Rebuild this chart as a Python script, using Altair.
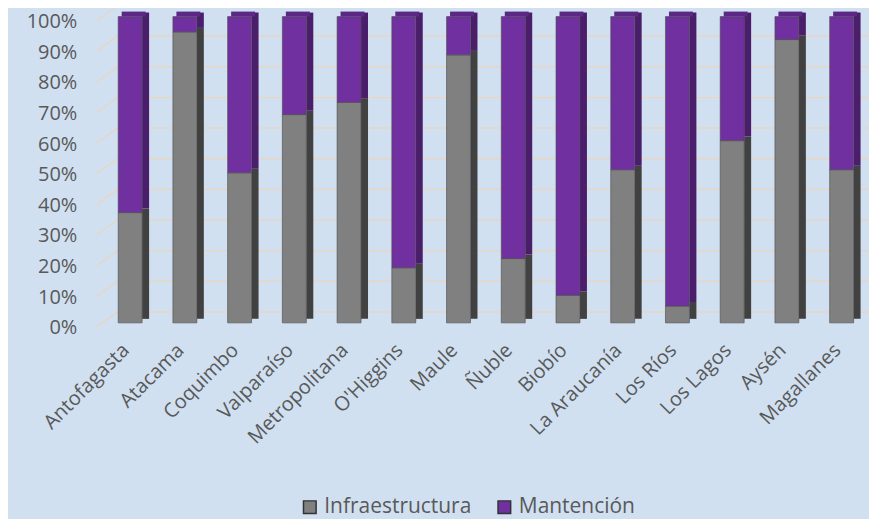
import altair as alt
import pandas as pd

regions = ["Antofagasta", "Atacama", "Coquimbo", "Valparaíso", "Metropolitana",
           "O'Higgins", "Maule", "Ñuble", "Biobío", "La Araucanía", "Los Ríos",
           "Los Lagos", "Aysén", "Magallanes"]
infraestructura = [36, 95, 49, 68, 72, 18, 87.5, 21, 9, 50, 5.5, 59.5, 92.5, 50]
mantencion = [100 - v for v in infraestructura]
series = ["Infraestructura", "Mantención"]
grid_vals = [0, 0.1, 0.2, 0.3, 0.4, 0.5, 0.6, 0.7, 0.8, 0.9, 1.0]

rows = []
for r, a, b in zip(regions, infraestructura, mantencion):
    rows.append({"region": r, "series": series[0], "value": a, "ord": 0})
    rows.append({"region": r, "series": series[1], "value": b, "ord": 1})
df = pd.DataFrame(rows)
grid_df = pd.DataFrame({"g": grid_vals})

W = 768
H = 307
FONT = "Open Sans"
TXT = "#595959"

xenc = alt.X("region:N", sort=regions, title=None,
             scale=alt.Scale(paddingInner=0, paddingOuter=0),
             axis=alt.Axis(labelAngle=-45, labelAlign="right", labelBaseline="middle",
                           labelFontSize=20, labelColor=TXT, labelFont=FONT,
                           labelOverlap=False, labelBound=False,
                           ticks=False, domain=False, labelPadding=24, labelOffset=-4))
yscale = alt.Scale(domain=[0, 1], nice=False)
yaxis = alt.Axis(format=".0%", values=grid_vals, tickCount=11, ticks=False, domain=False,
                 grid=False, labelFontSize=20, labelColor=TXT, labelFont=FONT,
                 labelOverlap=False, labelBound=False, labelFlush=False,
                 labelPadding=26, labelOffset=5)

grid_h = alt.Chart(grid_df).mark_rule(color="#E6D6C6", strokeWidth=1.5, yOffset=-11).encode(
    x=alt.value(15), x2=alt.value(W + 5),
    y=alt.Y("g:Q", scale=yscale, title=None, axis=yaxis),
)
grid_d = alt.Chart(grid_df).mark_rule(color="#E6D6C6", strokeWidth=1.5,
                                      yOffset=4, y2Offset=-11).encode(
    x=alt.value(-6), x2=alt.value(15),
    y=alt.Y("g:Q", scale=yscale, title=None, axis=yaxis), y2="g:Q",
)

side = alt.Chart(df).mark_bar(width=7, xOffset=15.5, yOffset=-4, y2Offset=-4).encode(
    x=xenc,
    y=alt.Y("value:Q", stack="normalize", scale=yscale, title=None, axis=yaxis),
    color=alt.Color("series:N", scale=alt.Scale(domain=series, range=["#414141", "#4A1E6B"]),
                    legend=None),
    order=alt.Order("ord:Q"),
)

top = alt.Chart(df[df["series"] == series[1]]).mark_bar(
    width=24, xOffset=3.5, y2Offset=-5, color="#5C2886").encode(
    x=xenc,
    y=alt.datum(1, scale=yscale, title=None, axis=yaxis),
    y2=alt.datum(1),
)

front = alt.Chart(df).mark_bar(width=24, stroke="#4a4a4a", strokeWidth=1, strokeOpacity=0.6).encode(
    x=xenc,
    y=alt.Y("value:Q", stack="normalize", scale=yscale, title=None, axis=yaxis),
    color=alt.Color("series:N", scale=alt.Scale(domain=series, range=["#808080", "#7030A0"]),
                    legend=alt.Legend(title=None, orient="none", legendX=197, legendY=481,
                                      direction="horizontal", symbolType="square",
                                      symbolSize=160, symbolStrokeColor="#333333",
                                      symbolStrokeWidth=1.5, labelFontSize=21,
                                      labelColor=TXT, labelFont=FONT, columnPadding=22,
                                      labelOffset=4)),
    order=alt.Order("ord:Q"),
)

chart = alt.layer(grid_h, grid_d, side, top, front).resolve_scale(color="independent").properties(
    width=W, height=H,
    autosize=alt.AutoSizeParams(type="none"),
    padding={"left": 95, "top": 8, "right": 0, "bottom": 196},
    background="#D0E0F1",
).configure_view(stroke=None)

chart.save("out.html", embed_options={"renderer": "svg", "actions": False})
